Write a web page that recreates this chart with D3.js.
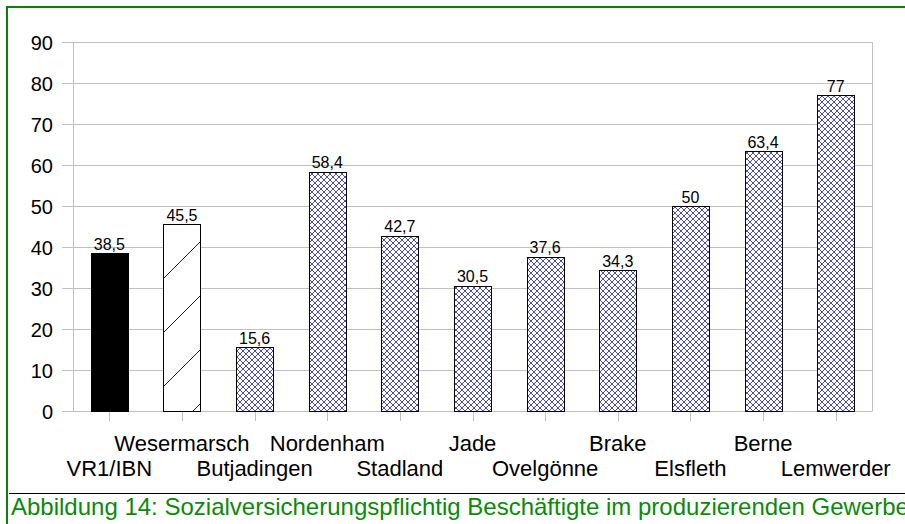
<!DOCTYPE html>
<meta charset="UTF-8">
<style>
  body { margin: 0; background: #fff; }
  svg { display: block; font-family: "Liberation Sans", Arial, sans-serif; }
</style>
<svg width="905" height="524"></svg>
<script src="https://d3js.org/d3.v7.min.js"></script>
<script>
  const categories = ['VR1/IBN', 'Wesermarsch', 'Butjadingen', 'Nordenham', 'Stadland', 'Jade',
                      'Ovelgönne', 'Brake', 'Elsfleth', 'Berne', 'Lemwerder'];
  const values = [38.5, 45.5, 15.6, 58.4, 42.7, 30.5, 37.6, 34.3, 50, 63.4, 77];
  const valueLabels = ['38,5', '45,5', '15,6', '58,4', '42,7', '30,5', '37,6', '34,3', '50', '63,4', '77'];
  const yTicks = [0, 10, 20, 30, 40, 50, 60, 70, 80, 90];
  const caption = 'Abbildung 14: Sozialversicherungspflichtig Beschäftigte im produzierenden Gewerbe';

  const svg = d3.select('svg');
  const plotLeft = 73, plotRight = 872, plotTop = 42, plotBottom = 411;

  const x = d3.scaleBand().domain(categories).range([plotLeft, plotRight]).paddingInner(0).paddingOuter(0);
  const y = d3.scaleLinear().domain([0, 90]).range([plotBottom, plotTop]);

  // patterns
  const defs = svg.append('defs');
  const cross = defs.append('pattern')
    .attr('id', 'cross').attr('patternUnits', 'userSpaceOnUse')
    .attr('width', 6).attr('height', 6);
  cross.append('rect').attr('width', 6).attr('height', 6).attr('fill', '#fff');
  cross.append('path').attr('d', 'M0,0L6,6M6,0L0,6')
    .attr('stroke', '#1f1fa8').attr('stroke-width', 0.8);

  const diag = defs.append('pattern')
    .attr('id', 'diag').attr('patternUnits', 'userSpaceOnUse')
    .attr('x', 10).attr('width', 54).attr('height', 54);
  diag.append('rect').attr('width', 54).attr('height', 54).attr('fill', '#fff');
  diag.append('path').attr('d', 'M0,54L54,0M-27,27L27,-27M27,81L81,27')
    .attr('stroke', '#222').attr('stroke-width', 1);

  // frame
  svg.append('path').attr('d', 'M7,524V7H905')
    .attr('fill', 'none').attr('stroke', '#0a800a').attr('stroke-width', 2);

  // grid
  svg.append('g').selectAll('line').data(yTicks).join('line')
    .attr('x1', plotLeft - 11).attr('x2', plotRight)
    .attr('y1', d => Math.round(y(d)) + 0.5).attr('y2', d => Math.round(y(d)) + 0.5)
    .attr('stroke', '#c0c0c0');
  svg.append('line')
    .attr('x1', plotLeft + 0.5).attr('x2', plotLeft + 0.5).attr('y1', plotTop).attr('y2', plotBottom + 0.5)
    .attr('stroke', '#c0c0c0');
  svg.append('line')
    .attr('x1', plotRight + 0.5).attr('x2', plotRight + 0.5).attr('y1', plotTop).attr('y2', plotBottom + 0.5)
    .attr('stroke', '#c0c0c0');

  svg.append('g').selectAll('text').data(yTicks).join('text')
    .attr('x', 53).attr('y', d => y(d) + 7.5)
    .attr('text-anchor', 'end').attr('font-size', 20).attr('fill', '#000')
    .text(d => d);

  // x ticks at bar centers
  svg.append('g').selectAll('line').data(categories).join('line')
    .attr('x1', d => Math.round(x(d) + x.bandwidth() / 2) + 0.5)
    .attr('x2', d => Math.round(x(d) + x.bandwidth() / 2) + 0.5)
    .attr('y1', plotBottom).attr('y2', plotBottom + 10)
    .attr('stroke', '#c0c0c0');

  // bars
  const barW = 37;
  const fills = (d, i) => i === 0 ? '#000' : i === 1 ? 'url(#diag)' : 'url(#cross)';
  svg.append('g').selectAll('rect').data(values).join('rect')
    .attr('x', (d, i) => Math.round(x(categories[i]) + x.bandwidth() / 2 - barW / 2) + 0.5)
    .attr('y', d => Math.round(y(d)) + 0.5)
    .attr('width', barW)
    .attr('height', d => Math.round(y(0)) - Math.round(y(d)))
    .attr('fill', fills)
    .attr('stroke', '#000').attr('stroke-width', 1);

  svg.append('g').selectAll('text').data(values).join('text')
    .attr('x', (d, i) => x(categories[i]) + x.bandwidth() / 2)
    .attr('y', d => y(d) - 3.5)
    .attr('text-anchor', 'middle').attr('font-size', 16).attr('fill', '#000')
    .text((d, i) => valueLabels[i]);

  // category labels, staggered
  svg.append('g').selectAll('text').data(categories).join('text')
    .attr('x', d => x(d) + x.bandwidth() / 2)
    .attr('y', (d, i) => i % 2 === 0 ? 476 : 451)
    .attr('text-anchor', 'middle').attr('font-size', 22).attr('fill', '#000')
    .text(d => d);

  // caption (runs past the right edge, as in the original)
  svg.append('line').attr('x1', 9).attr('x2', 905).attr('y1', 493.5).attr('y2', 493.5)
    .attr('stroke', '#000');
  svg.append('text').attr('x', 11).attr('y', 515)
    .attr('font-size', 24).attr('fill', '#0a8a0a')
    .text(caption);
</script>
